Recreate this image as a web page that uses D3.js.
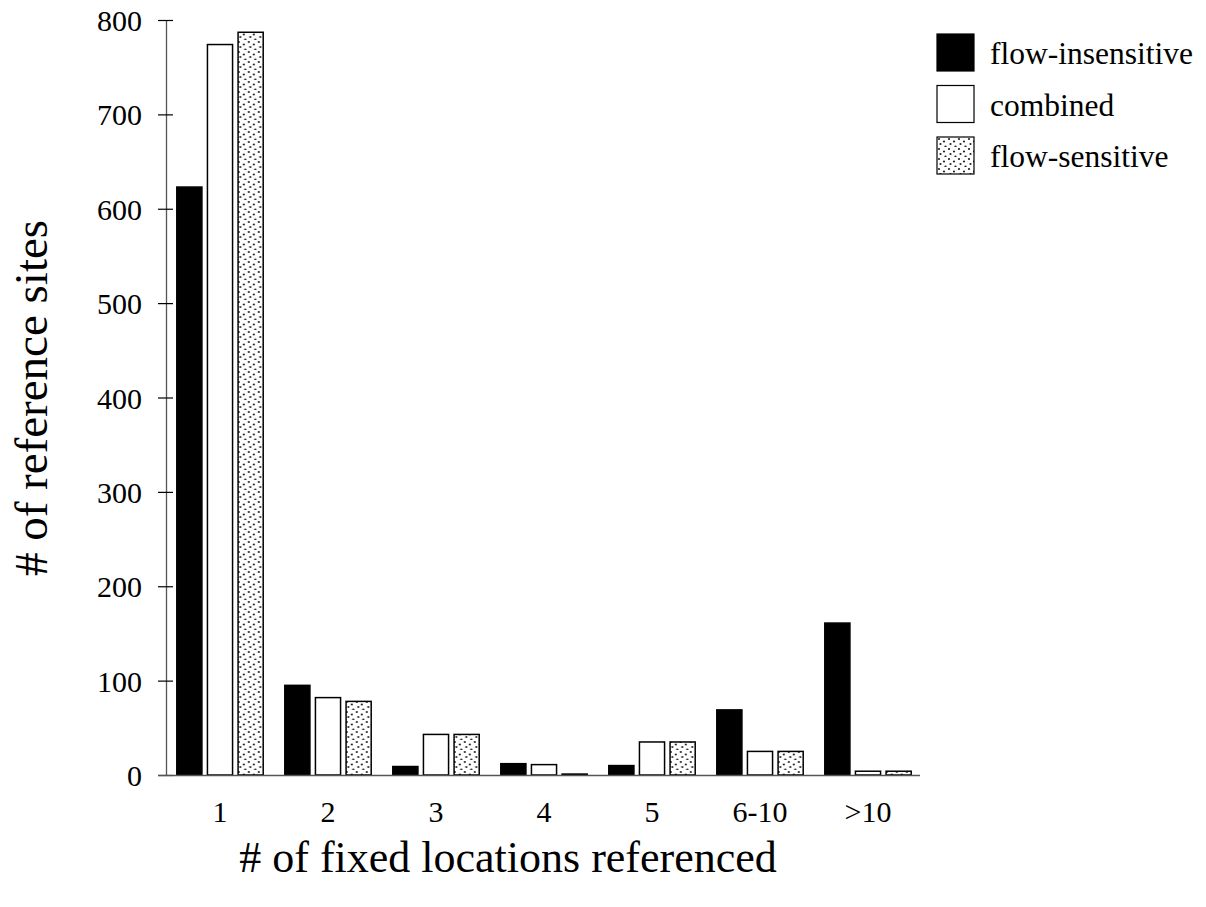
<!DOCTYPE html>
<html>
<head>
<meta charset="utf-8">
<script src="https://cdn.jsdelivr.net/npm/d3@7"></script>
<style>
  body { margin: 0; background: #fff; }
  text { font-family: "Liberation Serif", "Times New Roman", serif; fill: #000; }
</style>
</head>
<body>
<div id="chart"></div>
<script>
  // data
  var categories = ["1", "2", "3", "4", "5", "6-10", ">10"];
  var series = ["flow-insensitive", "combined", "flow-sensitive"];
  var flowInsensitive = [623, 95, 9, 12, 10, 69, 161];
  var combined = [774, 82, 43, 11, 35, 25, 4];
  var flowSensitive = [787, 78, 43, 1, 35, 25, 4];
  var yTicks = [0, 100, 200, 300, 400, 500, 600, 700, 800];

  var values = [flowInsensitive, combined, flowSensitive];
  var fills = ["#000", "#fff", "url(#dots)"];

  var width = 1206, height = 907;
  // plot area edges (note: "top" is reserved by window, so use plot* names)
  var plotLeft = 166, plotRight = 922, plotTop = 20, plotBottom = 775;

  var svg = d3.select("#chart")
    .append("svg")
    .attr("width", width)
    .attr("height", height);

  // dotted pattern for the flow-sensitive bars
  var pat = svg.append("defs")
    .append("pattern")
    .attr("id", "dots")
    .attr("width", 10)
    .attr("height", 10)
    .attr("patternUnits", "userSpaceOnUse");
  pat.append("rect").attr("width", 10).attr("height", 10).attr("fill", "#fff");
  [[2, 2], [7, 4.5], [3.5, 7], [8.5, 9.5]].forEach(function (p) {
    pat.append("circle").attr("cx", p[0]).attr("cy", p[1]).attr("r", 1.1).attr("fill", "#222");
  });

  var x0 = d3.scaleBand()
    .domain(categories)
    .range([plotLeft, plotRight])
    .paddingInner(0.2)
    .paddingOuter(0.1);

  var x1 = d3.scaleBand()
    .domain(series)
    .range([0, x0.bandwidth()])
    .paddingInner(0.18);

  var y = d3.scaleLinear()
    .domain([0, 800])
    .range([plotBottom, plotTop]);

  // bars
  var groups = svg.append("g")
    .selectAll("g")
    .data(categories)
    .enter()
    .append("g")
    .attr("transform", function (d) { return "translate(" + x0(d) + ",0)"; });

  groups.selectAll("rect")
    .data(function (d, i) {
      return series.map(function (s, j) { return { s: s, v: values[j][i], f: fills[j] }; });
    })
    .enter()
    .append("rect")
    .attr("x", function (d) { return x1(d.s); })
    .attr("y", function (d) { return y(d.v); })
    .attr("width", x1.bandwidth())
    .attr("height", function (d) { return y(0) - y(d.v); })
    .attr("fill", function (d) { return d.f; })
    .attr("stroke", "#000")
    .attr("stroke-width", 1.5);

  // y axis
  var yAxis = svg.append("g")
    .attr("transform", "translate(" + plotLeft + ",0)")
    .call(d3.axisLeft(y).tickValues(yTicks).tickSizeOuter(0).tickPadding(24));
  yAxis.select(".domain").attr("stroke", "#555").attr("stroke-width", 1.3);
  yAxis.selectAll(".tick line").attr("x1", -8).attr("x2", 7).attr("stroke", "#000").attr("stroke-width", 1.2);
  yAxis.selectAll(".tick text")
    .attr("x", -24)
    .attr("dy", "0.35em")
    .style("font-size", "30px")
    .style("font-family", "'Liberation Serif', 'Times New Roman', serif");

  // x axis line (no ticks) and category labels
  svg.append("line")
    .attr("x1", plotLeft - 8)
    .attr("x2", plotRight - 2)
    .attr("y1", plotBottom + 0.5)
    .attr("y2", plotBottom + 0.5)
    .attr("stroke", "#555")
    .attr("stroke-width", 1.3);

  svg.append("g")
    .selectAll("text")
    .data(categories)
    .enter()
    .append("text")
    .attr("x", function (d) { return x0(d) + x0.bandwidth() / 2; })
    .attr("y", 822)
    .attr("text-anchor", "middle")
    .style("font-size", "30px")
    .text(function (d) { return d; });

  // axis titles
  svg.append("text")
    .attr("x", 508)
    .attr("y", 872)
    .attr("text-anchor", "middle")
    .style("font-size", "44px")
    .text("# of fixed locations referenced");

  svg.append("text")
    .attr("transform", "translate(47,398) rotate(-90)")
    .attr("text-anchor", "middle")
    .style("font-size", "47px")
    .text("# of reference sites");

  // legend
  var legend = svg.append("g")
    .attr("transform", "translate(937,34)");

  var items = legend.selectAll("g")
    .data(series)
    .enter()
    .append("g")
    .attr("transform", function (d, i) { return "translate(0," + (i * 51.5) + ")"; });

  items.append("rect")
    .attr("width", 37)
    .attr("height", 37)
    .attr("fill", function (d, i) { return fills[i]; })
    .attr("stroke", "#000")
    .attr("stroke-width", 1.2);

  items.append("text")
    .attr("x", 53)
    .attr("y", 30)
    .style("font-size", "31.5px")
    .text(function (d) { return d; });
</script>
</body>
</html>
